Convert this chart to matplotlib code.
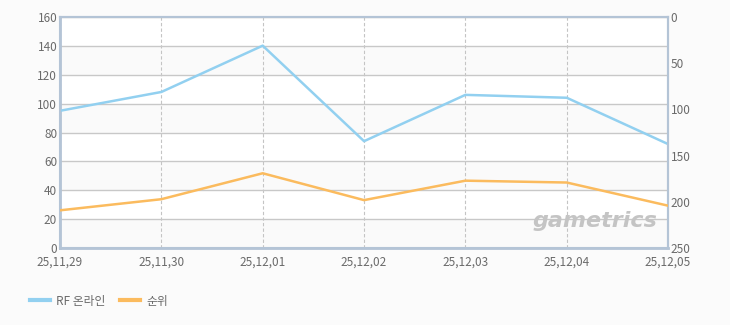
import matplotlib.pyplot as plt

plt.rcParams['font.family'] = ['Noto Sans CJK KR', 'DejaVu Sans']

# data
dates = ['25,11,29', '25,11,30', '25,12,01', '25,12,02', '25,12,03', '25,12,04', '25,12,05']
rf_online = [95, 108, 140, 74, 106, 104, 72]
rank = [209, 197, 169, 198, 177, 179, 204]

left_ticks = [0, 20, 40, 60, 80, 100, 120, 140, 160]
right_ticks = [0, 50, 100, 150, 200, 250]

bg = '#fbfbfb'
spine_c = '#b4c4d6'
txt_c = '#6a6a6a'

fig = plt.figure(figsize=(7.3, 3.25), dpi=100, facecolor=bg)
ax = fig.add_axes([0.0822, 0.236, 0.833, 0.7126])
ax.set_facecolor('white')

x = list(range(len(dates)))

# alternating bands
for i in range(len(left_ticks) - 1):
    if i % 2 == 0:
        ax.axhspan(left_ticks[i], left_ticks[i + 1], color='#fafafa', zorder=0, lw=0)

ax.set_xlim(0, len(dates) - 1)
ax.set_ylim(0, 160)
ax.set_yticks(left_ticks)
ax.set_xticks(x)
ax.set_xticklabels(dates)
ax.yaxis.grid(True, color='#c8c8c8', lw=1, zorder=1)
ax.xaxis.grid(True, color='#c4c4c4', lw=0.8, ls=(0, (3, 2)), zorder=1)
ax.set_axisbelow(True)

l1, = ax.plot(x, rf_online, color='#92d0f0', lw=1.8, zorder=3, label='RF 온라인')

ax2 = ax.twinx()
ax2.set_ylim(250, 0)
ax2.set_yticks(right_ticks)
l2, = ax2.plot(x, rank, color='#fbbb5e', lw=1.8, zorder=3, label='순위')

for a in (ax, ax2):
    for s in a.spines.values():
        s.set_color(spine_c)
        s.set_linewidth(1.5)
    a.tick_params(colors=txt_c, labelsize=8.5, length=0, pad=2)
ax.spines['left'].set_linewidth(2)
ax.spines['bottom'].set_linewidth(2)
ax.tick_params(axis='x', pad=5)

# watermark
ax.text(0.983, 0.075, 'gametrics', transform=ax.transAxes, ha='right', va='bottom',
        fontsize=16, fontstyle='italic', fontweight='bold', color='#c4c4c4',
        family='DejaVu Sans', zorder=2)

leg = fig.legend(handles=[l1, l2], loc='lower left', bbox_to_anchor=(0.026, 0.021),
                 ncol=2, frameon=False, fontsize=8.5, labelcolor=txt_c,
                 handlelength=1.7, handletextpad=0.5, columnspacing=1.3)
for h in leg.get_lines():
    h.set_linewidth(3)

fig.savefig('out.png', dpi=100, facecolor=bg)
